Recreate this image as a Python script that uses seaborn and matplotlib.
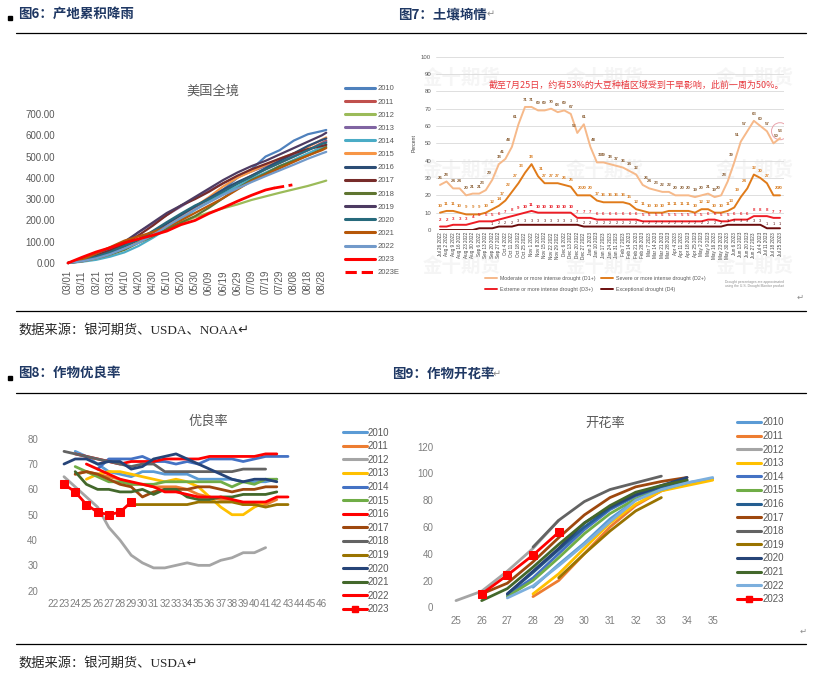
import matplotlib
matplotlib.use("Agg")
import matplotlib.pyplot as plt
import seaborn as sns
from matplotlib.lines import Line2D
from matplotlib.patches import Rectangle

# ---------------- 图6 产地累积降雨 (美国全境) ----------------
rain_days = [0, 10, 20, 30, 40, 50, 60, 70, 80, 90, 100, 110, 120, 130, 140, 150, 160, 170, 180, 183]
rain_tick_days = [0, 10, 20, 30, 40, 50, 60, 70, 80, 90, 100, 110, 120, 130, 140, 150, 160, 170, 180]
rain_tick_labels = ['03/01', '03/11', '03/21', '03/31', '04/10', '04/20', '04/30', '05/10', '05/20', '05/30',
                    '06/09', '06/19', '06/29', '07/09', '07/19', '07/29', '08/08', '08/18', '08/28']
rain_years = ['2010', '2011', '2012', '2013', '2014', '2015', '2016', '2017', '2018', '2019', '2020', '2021', '2022']
rain_2010 = [0, 10, 25, 45, 70, 100, 140, 180, 225, 265, 300, 345, 400, 440, 500, 530, 575, 605, 620, 625]
rain_2011 = [0, 15, 35, 58, 82, 112, 148, 185, 225, 262, 300, 340, 375, 410, 440, 470, 500, 530, 565, 575]
rain_2012 = [0, 12, 30, 50, 75, 100, 128, 158, 188, 215, 237, 257, 275, 296, 313, 330, 346, 362, 381, 387]
rain_2013 = [0, 12, 30, 55, 90, 145, 185, 225, 265, 305, 340, 375, 405, 430, 455, 480, 505, 530, 560, 570]
rain_2014 = [0, 6, 15, 30, 50, 80, 118, 160, 205, 250, 290, 325, 360, 395, 425, 455, 485, 515, 545, 555]
rain_2015 = [0, 8, 22, 42, 70, 100, 135, 175, 220, 265, 310, 360, 400, 430, 460, 490, 515, 545, 580, 590]
rain_2016 = [0, 10, 28, 50, 78, 110, 145, 185, 225, 265, 305, 345, 380, 410, 445, 480, 515, 550, 578, 585]
rain_2017 = [0, 15, 35, 60, 90, 130, 175, 225, 270, 300, 335, 375, 410, 440, 465, 490, 515, 535, 550, 555]
rain_2018 = [0, 8, 22, 40, 62, 95, 125, 160, 190, 220, 260, 305, 350, 390, 420, 455, 480, 505, 535, 545]
rain_2019 = [0, 20, 45, 70, 100, 145, 190, 235, 270, 310, 350, 390, 425, 455, 480, 510, 540, 570, 600, 612]
rain_2020 = [0, 12, 30, 52, 80, 110, 150, 192, 232, 270, 300, 335, 372, 405, 440, 470, 500, 530, 560, 565]
rain_2021 = [0, 15, 45, 75, 105, 125, 145, 170, 200, 235, 270, 305, 345, 385, 415, 445, 475, 505, 530, 540]
rain_2022 = [0, 8, 22, 42, 68, 95, 130, 172, 212, 250, 285, 320, 350, 380, 408, 435, 462, 490, 515, 522]
rain_2023_days = [0, 10, 20, 30, 40, 50, 60, 70, 80, 90, 100, 110, 120, 130, 140, 146]
rain_2023 = [0, 27, 52, 72, 95, 113, 130, 150, 180, 200, 233, 260, 290, 318, 343, 352]
rain_2023e_days = [146, 153, 159]
rain_2023e = [352, 360, 367]
rain_colors = ['#4F81BD', '#C0504D', '#9BBB59', '#8064A2', '#4BACC6', '#F79646', '#2C4D75',
               '#772C2A', '#5F7530', '#4D3B62', '#276A7C', '#B65708', '#729ACA']

# ---------------- 图7 土壤墒情 ----------------
drought_dates = ['Jul 26 2022', 'Aug 2 2022', 'Aug 9 2022', 'Aug 16 2022', 'Aug 23 2022', 'Aug 30 2022',
                 'Sep 6 2022', 'Sep 13 2022', 'Sep 20 2022', 'Sep 27 2022', 'Oct 4 2022', 'Oct 11 2022',
                 'Oct 18 2022', 'Oct 25 2022', 'Nov 1 2022', 'Nov 8 2022', 'Nov 15 2022', 'Nov 22 2022',
                 'Nov 29 2022', 'Dec 6 2022', 'Dec 13 2022', 'Dec 20 2022', 'Dec 27 2022', 'Jan 3 2023',
                 'Jan 10 2023', 'Jan 17 2023', 'Jan 24 2023', 'Jan 31 2023', 'Feb 7 2023', 'Feb 14 2023',
                 'Feb 21 2023', 'Feb 28 2023', 'Mar 7 2023', 'Mar 14 2023', 'Mar 21 2023', 'Mar 28 2023',
                 'Apr 4 2023', 'Apr 11 2023', 'Apr 18 2023', 'Apr 25 2023', 'May 2 2023', 'May 9 2023',
                 'May 16 2023', 'May 23 2023', 'May 30 2023', 'Jun 6 2023', 'Jun 13 2023', 'Jun 20 2023',
                 'Jun 27 2023', 'Jul 4 2023', 'Jul 11 2023', 'Jul 18 2023', 'Jul 25 2023']
d1 = [26, 28, 24, 24, 20, 21, 21, 23, 29, 38, 41, 48, 61, 71, 71, 69, 69, 70, 68, 69, 67, 56, 61, 48, 39, 39,
      38, 37, 36, 34, 32, 26, 24, 23, 22, 22, 20, 20, 20, 19, 20, 21, 19, 20, 28, 39, 51, 57, 63, 60, 57, 50, 53]
d2 = [10, 11, 11, 10, 9, 9, 9, 10, 12, 14, 17, 22, 27, 33, 38, 31, 27, 27, 27, 26, 25, 20, 20, 20, 17, 16,
      16, 16, 16, 15, 12, 11, 10, 10, 10, 11, 11, 11, 11, 10, 12, 12, 10, 10, 11, 13, 19, 24, 32, 30, 27, 20, 20]
d3 = [2, 2, 3, 3, 3, 4, 5, 5, 5, 6, 7, 8, 9, 10, 11, 10, 10, 10, 10, 10, 10, 7, 7, 7, 6, 6, 6, 6, 6, 6, 6,
      5, 5, 5, 5, 5, 5, 5, 5, 5, 5, 6, 6, 5, 5, 6, 6, 6, 8, 8, 8, 7, 7]
d4 = [0, 0, 0, 0, 0, 0, 1, 1, 1, 2, 2, 2, 3, 3, 3, 3, 3, 3, 3, 3, 3, 3, 2, 2, 2, 2, 2, 2, 2, 2, 2, 2, 2, 2,
      2, 2, 2, 2, 2, 2, 2, 2, 2, 2, 3, 3, 3, 3, 3, 3, 1, 1, 1]
drought_names = ['Moderate or more intense drought (D1+)', 'Severe or more intense drought (D2+)',
                 'Extreme or more intense drought (D3+)', 'Exceptional drought (D4)']
drought_colors = ['#F6B98A', '#E07B1A', '#EE1C25', '#6B0D0D']
drought_label_colors = ['#8C6239', '#D9822B', '#E8202A', '#5A1515']

# ---------------- 图8 作物优良率 ----------------
gd_weeks = list(range(22, 47))
gd_years = ['2010', '2011', '2012', '2013', '2014', '2015', '2016', '2017', '2018', '2019', '2020', '2021', '2022', '2023']
gd_first_week = [24, 24, 23, 25, 26, 24, 24, 24, 23, 29, 23, 24, 25, 23]
gd_2010 = [75, 73, 70, 67, 66, 65, 67, 67, 66, 66, 66, 64, 64, 64, 64, 63, 63, 63, 64]
gd_2011 = [66, 67, 66, 65, 64, 62, 62, 61, 61, 61, 60, 58, 57, 56, 56, 54, 54, 54, 56]
gd_2012 = [65, 61, 57, 53, 45, 40, 34, 31, 29, 29, 30, 31, 30, 30, 32, 33, 35, 35, 37]
gd_2013 = [64, 66, 67, 67, 66, 65, 64, 63, 64, 63, 61, 57, 53, 50, 50, 53, 55]
gd_2014 = [68, 72, 72, 72, 73, 71, 71, 70, 71, 70, 72, 72, 72, 71, 72, 73, 73, 73]
gd_2015 = [69, 67, 65, 63, 63, 62, 62, 62, 63, 63, 63, 63, 63, 63, 61, 63, 62, 64, 64]
gd_2016 = [74, 73, 72, 71, 70, 71, 71, 71, 72, 72, 72, 72, 73, 73, 73, 73, 73, 74, 74]
gd_2017 = [66, 67, 66, 64, 62, 61, 57, 59, 60, 60, 60, 61, 61, 60, 59, 60, 60, 61, 61]
gd_2018 = [75, 74, 73, 72, 71, 70, 69, 70, 70, 67, 67, 67, 67, 67, 67, 67, 68, 68, 68]
gd_2019 = [54, 54, 54, 54, 54, 54, 55, 55, 55, 55, 54, 54, 53, 54, 54]
gd_2020 = [70, 72, 72, 70, 71, 71, 68, 69, 72, 73, 74, 72, 70, 68, 66, 64, 63, 64, 64, 63]
gd_2021 = [67, 62, 60, 60, 59, 59, 60, 58, 60, 60, 57, 56, 56, 57, 57, 58, 58, 58, 59]
gd_2022 = [70, 68, 66, 64, 63, 62, 61, 59, 59, 58, 57, 57, 57, 56, 55, 55, 55, 57, 57]
gd_2023 = [62, 59, 54, 51, 50, 51, 55]
gd_colors = ['#5B9BD5', '#ED7D31', '#A5A5A5', '#FFC000', '#4472C4', '#70AD47', '#FF0000',
             '#9E480E', '#636363', '#997300', '#264478', '#43682B', '#FF0000', '#FF0000']

# ---------------- 图9 作物开花率 ----------------
fl_weeks = list(range(25, 36))
fl_first_week = [28, 28, 25, 28, 27, 27, 27, 26, 28, 29, 27, 26, 27, 26]
fl_2010 = [15, 32, 48, 66, 80, 88, 93, 96]
fl_2011 = [8, 20, 40, 60, 76, 87, 93]
fl_2012 = [5, 12, 27, 44, 65]
fl_2013 = [10, 25, 44, 63, 77, 87, 91, 95]
fl_2014 = [9, 22, 40, 58, 73, 83, 89, 95]
fl_2015 = [8, 20, 37, 55, 70, 81, 88, 93]
fl_2016 = [10, 26, 43, 60, 74, 84, 90, 95]
fl_2017 = [10, 18, 34, 52, 69, 82, 90, 94, 97]
fl_2018 = [45, 65, 79, 88, 93, 98]
fl_2019 = [22, 40, 57, 72, 82]
fl_2020 = [10, 27, 44, 63, 75, 84, 91, 97]
fl_2021 = [5, 14, 30, 47, 63, 76, 86, 91, 95]
fl_2022 = [7, 16, 31, 47, 64, 80, 88, 93, 97]
fl_2023 = [10, 24, 39, 56]
fl_colors = ['#5B9BD5', '#ED7D31', '#A5A5A5', '#FFC000', '#4472C4', '#70AD47', '#255E91',
             '#9E480E', '#636363', '#997300', '#264478', '#43682B', '#7CAFDD', '#FF0000']

sns.set_style("white")
plt.rcParams['font.family'] = ['Liberation Sans', 'Noto Sans CJK SC', 'DejaVu Sans']
CJK = ['Noto Sans CJK SC', 'DejaVu Sans']
SERIF_CJK = ['Liberation Serif', 'Noto Sans CJK SC', 'DejaVu Sans']

W, H = 835, 681
fig = plt.figure(figsize=(W / 100, H / 100), dpi=100)

page = fig.add_axes([0, 0, 1, 1])
page.set_xlim(0, W)
page.set_ylim(H, 0)
page.axis('off')


def px_axes(l, t, r, b):
    ax = fig.add_axes([l / W, 1 - b / H, (r - l) / W, (b - t) / H])
    ax.set_facecolor('none')
    for sp in ax.spines.values():
        sp.set_visible(False)
    return ax


def span(v0, p0, v1, p1, a, b):
    s = (p1 - p0) / (v1 - v0)
    return v0 + (a - p0) / s, v0 + (b - p0) / s


def legend_px(ax, handles, labels, x, y, **kw):
    leg = ax.legend(handles, labels, loc='upper left', bbox_to_anchor=(x / W, 1 - y / H),
                    bbox_transform=fig.transFigure, frameon=False, borderpad=0, borderaxespad=0, **kw)
    for t in leg.get_texts():
        t.set_color('#595959')
    return leg


# ---- page furniture ----
navy = '#1F3864'
for x, y, s in [(18, 14, '图6：产地累积降雨'), (398, 14, '图7：土壤墒情'),
                (18, 374, '图8：作物优良率'), (392, 374, '图9：作物开花率')]:
    page.text(x, y, s, fontsize=9.7, fontweight='bold', color=navy, va='center', family=CJK)
for y in [16, 376]:
    page.add_patch(Rectangle((8, y), 4, 4, color='black'))
page.text(487, 14, '↵', fontsize=7, color='#8C8C8C', va='center', family=['DejaVu Sans'])
page.text(493, 374, '↵', fontsize=7, color='#8C8C8C', va='center', family=['DejaVu Sans'])
for y in [33, 311, 393, 644]:
    page.plot([16, 806], [y, y], color='black', lw=0.9)
page.text(18, 331, '数据来源：银河期货、USDA、NOAA↵', fontsize=9.5, va='center', family=SERIF_CJK)
page.text(18, 664, '数据来源：银河期货、USDA↵', fontsize=9.5, va='center', family=SERIF_CJK)
page.text(797, 297, '↵', fontsize=6, color='#8C8C8C', va='center', family=['DejaVu Sans'])
page.text(800, 631, '↵', fontsize=6, color='#8C8C8C', va='center', family=['DejaVu Sans'])

# faint watermarks on the drought picture
for wx in [462, 605, 755]:
    for wy in [78, 170, 266]:
        page.text(wx, wy, '金十期货', fontsize=14, fontweight='bold', color='#F5F5F5',
                  ha='center', va='center', family=CJK)

# ---- 图6 ----
ax1 = px_axes(62, 105, 332, 268)
for yr, vals, col in zip(rain_years,
                         [rain_2010, rain_2011, rain_2012, rain_2013, rain_2014, rain_2015, rain_2016,
                          rain_2017, rain_2018, rain_2019, rain_2020, rain_2021, rain_2022],
                         rain_colors):
    sns.lineplot(x=rain_days, y=vals, ax=ax1, color=col, lw=1.6)
sns.lineplot(x=rain_2023_days, y=rain_2023, ax=ax1, color='#FF0000', lw=2.0)
sns.lineplot(x=rain_2023e_days, y=rain_2023e, ax=ax1, color='#FF0000', lw=2.0, linestyle='--')
ax1.set_xlim(*span(0, 68, 180, 322, 62, 332))
ax1.set_ylim(*span(0, 263, 700, 114, 268, 105))
ax1.set_yticks(range(0, 800, 100))
ax1.set_yticklabels([f'{v:.2f}' for v in range(0, 800, 100)])
ax1.set_xticks(rain_tick_days)
ax1.set_xticklabels(rain_tick_labels, rotation=90)
ax1.tick_params(axis='y', length=0, pad=5, labelsize=7, labelcolor='#595959')
ax1.tick_params(axis='x', length=0, pad=1.5, labelsize=7, labelcolor='#595959')
ax1.set_xlabel('')
ax1.set_ylabel('')
page.text(213, 91, '美国全境', fontsize=9.5, color='#595959', ha='center', va='center', family=CJK)
h1 = [Line2D([], [], color=c, lw=2.2) for c in rain_colors]
h1 += [Line2D([], [], color='#FF0000', lw=2.2), Line2D([], [], color='#FF0000', lw=2.2, ls='--')]
legend_px(ax1, h1, rain_years + ['2023', '2023E'], 345, 85, fontsize=5.5, handlelength=3.9,
          handletextpad=0.4, labelspacing=0.76)

# ---- 图7 ----
ax2 = px_axes(436, 56.7, 784, 230)
for i in range(0, 101, 10):
    ax2.axhline(i, color='#D9D9D9', lw=0.6, zorder=0)
xs = list(range(len(drought_dates)))
for vals, col in zip([d4, d3, d2, d1], drought_colors[::-1]):
    sns.lineplot(x=xs, y=vals, ax=ax2, color=col, lw=1.4)
for vals, col, off in zip([d1, d2, d3], drought_label_colors[:3], [4, 4, 3.5]):
    for i, v in enumerate(vals):
        dx = 0
        if 0 < i < len(vals) - 1:
            if vals[i + 1] - vals[i] >= 5:
                dx = -0.5
            elif vals[i - 1] - vals[i] >= 5:
                dx = 0.5
        ax2.text(i + dx, v + off, str(v), fontsize=3.2, color=col, ha='center', va='center',
                 fontweight='bold')
for i, v in enumerate(d4):
    if v >= 1 and i >= 8:
        ax2.text(i, v + 2.3, str(v), fontsize=2.9, color=drought_label_colors[3], ha='center', va='center')
ax2.scatter([52], [57], s=150, facecolors='none', edgecolors='#E9A3AB', lw=0.7)
ax2.set_xlim(*span(0, 440, 52, 780, 436, 784))
ax2.set_ylim(0, 100)
ax2.set_yticks(range(0, 101, 10))
ax2.set_xticks(xs)
ax2.set_xticklabels(drought_dates, rotation=90)
ax2.tick_params(axis='y', length=0, pad=3.5, labelsize=4.3, labelcolor='#595959')
ax2.tick_params(axis='x', length=0, pad=1.5, labelsize=3.3, labelcolor='#404040')
ax2.set_ylabel('Percent', fontsize=3.8, color='#404040', labelpad=3)
page.text(489, 85, '截至7月25日，约有53%的大豆种植区域受到干旱影响，此前一周为50%。',
          fontsize=6.5, color='#E8383D', va='center', family=CJK)
h2 = [Line2D([], [], color=c, lw=1.4) for c in drought_colors]
legend_px(ax2, [h2[0], h2[2], h2[1], h2[3]],
          [drought_names[0], drought_names[2], drought_names[1], drought_names[3]],
          485, 276, ncol=2, fontsize=3.8, handlelength=2.3, handletextpad=0.6,
          labelspacing=1.2, columnspacing=1.0)
page.text(725, 284, 'Drought percentages are approximated\nusing the U.S. Drought Monitor product',
          fontsize=2.4, color='#8C8C8C', va='center', linespacing=1.3)

# ---- 图8 ----
ax3 = px_axes(47, 425, 327.5, 597)
gd_series = [gd_2010, gd_2011, gd_2012, gd_2013, gd_2014, gd_2015, gd_2016,
             gd_2017, gd_2018, gd_2019, gd_2020, gd_2021, gd_2022, gd_2023]
for yr, w0, vals, col in zip(gd_years, gd_first_week, gd_series, gd_colors):
    wk = list(range(w0, w0 + len(vals)))
    if yr == '2023':
        sns.lineplot(x=wk, y=vals, ax=ax3, color=col, lw=2.0, marker='s', markersize=5.5,
                     markeredgecolor=col)
    else:
        sns.lineplot(x=wk, y=vals, ax=ax3, color=col, lw=2.0)
ax3.set_xlim(*span(23, 64, 24, 75.2, 47, 327.5))
ax3.set_ylim(*span(80, 438.7, 20, 590.7, 597, 425))
ax3.set_xticks(gd_weeks)
ax3.set_xticklabels([str(w) for w in gd_weeks])
ax3.set_yticks(range(20, 81, 10))
ax3.tick_params(axis='x', length=0, pad=1.5, labelsize=7.2, labelcolor='#7F7F7F')
ax3.tick_params(axis='y', length=0, pad=6.5, labelsize=7, labelcolor='#7F7F7F')
page.text(208, 421, '优良率', fontsize=9.5, color='#595959', ha='center', va='center', family=CJK)
h3 = [Line2D([], [], color=c, lw=2.2) for c in gd_colors[:-1]]
h3.append(Line2D([], [], color='#FF0000', lw=2.2, marker='s', markersize=5))
legend_px(ax3, h3, gd_years, 343, 427.7, fontsize=7, handlelength=2.47,
          handletextpad=0.1, labelspacing=0.37)

# ---- 图9 ----
ax4 = px_axes(440, 440, 725, 610)
fl_series = [fl_2010, fl_2011, fl_2012, fl_2013, fl_2014, fl_2015, fl_2016,
             fl_2017, fl_2018, fl_2019, fl_2020, fl_2021, fl_2022, fl_2023]
for yr, w0, vals, col in zip(gd_years, fl_first_week, fl_series, fl_colors):
    wk = list(range(w0, w0 + len(vals)))
    if yr == '2023':
        sns.lineplot(x=wk, y=vals, ax=ax4, color=col, lw=2.0, marker='s', markersize=5.5,
                     markeredgecolor=col)
    else:
        sns.lineplot(x=wk, y=vals, ax=ax4, color=col, lw=2.0)
ax4.set_xlim(*span(25, 456, 35, 712.7, 440, 725))
ax4.set_ylim(*span(0, 607.3, 120, 446.7, 610, 440))
ax4.set_xticks(fl_weeks)
ax4.set_yticks(range(0, 121, 20))
ax4.tick_params(axis='x', length=0, pad=4.3, labelsize=7, labelcolor='#7F7F7F')
ax4.tick_params(axis='y', length=0, pad=4.8, labelsize=7, labelcolor='#7F7F7F')
page.text(605, 423, '开花率', fontsize=9.5, color='#595959', ha='center', va='center', family=CJK)
h4 = [Line2D([], [], color=c, lw=2.2) for c in fl_colors[:-1]]
h4.append(Line2D([], [], color='#FF0000', lw=2.2, marker='s', markersize=5))
legend_px(ax4, h4, gd_years, 736.7, 417.4, fontsize=7, handlelength=2.47,
          handletextpad=0.2, labelspacing=0.37)

fig.savefig('out.png', dpi=100)
